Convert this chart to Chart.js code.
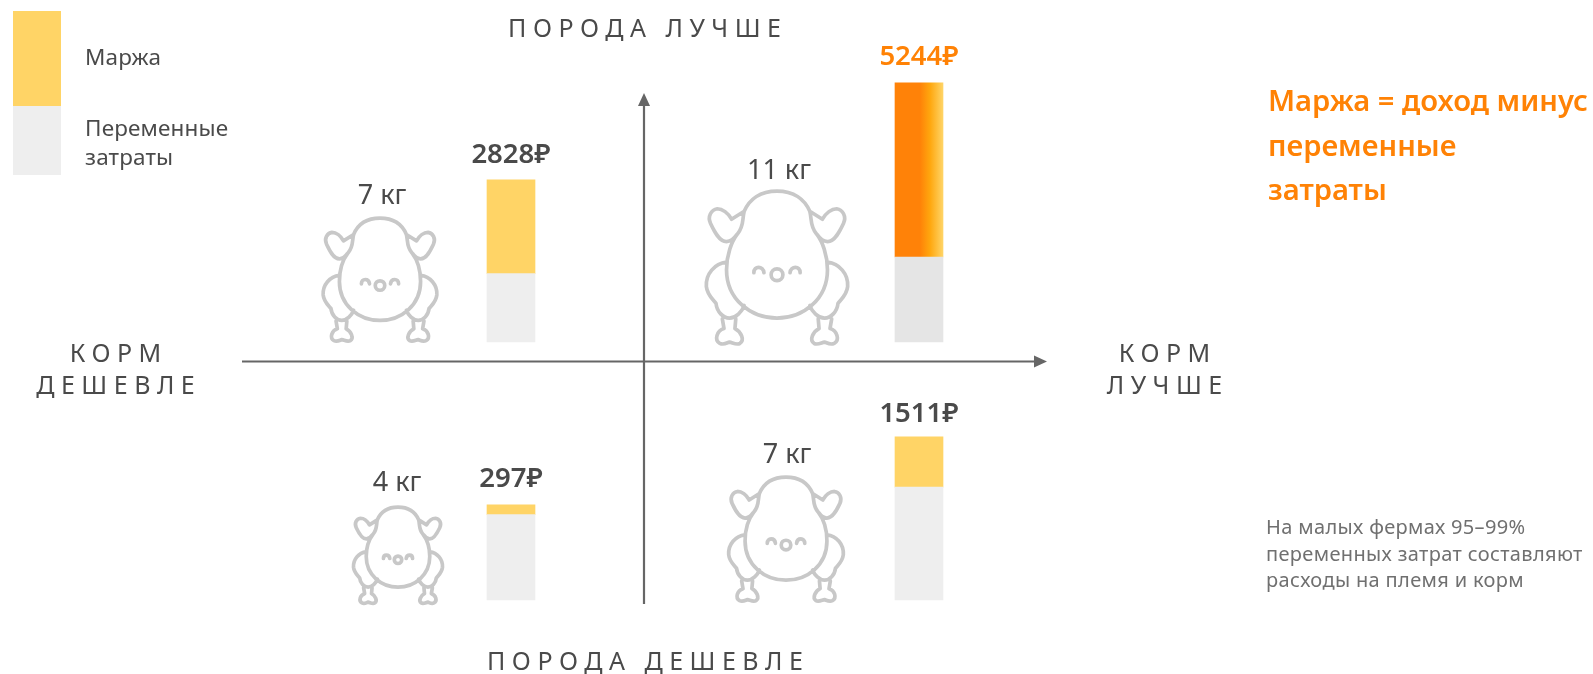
<!DOCTYPE html>
<html lang="ru">
<head>
<meta charset="utf-8">
<title>Маржа</title>
<script src="https://cdn.jsdelivr.net/npm/chart.js@4/dist/chart.umd.min.js"></script>
<style>
  html, body { margin: 0; padding: 0; background: #fff; }
  body { position: relative; width: 1593px; height: 674px; overflow: hidden; font-family: "Noto Sans", sans-serif; color: #4a4a4a; }
  canvas { position: absolute; left: 0; top: 0; }
  .label { position: absolute; white-space: pre; }
  .swatch { position: absolute; left: 13px; width: 48px; }
  .axis-name { font-size: 25px; line-height: 32px; letter-spacing: 6.5px; text-align: center; transform: translateX(-50%); }
  .legend-text { left: 85px; font-size: 22.5px; line-height: 29px; letter-spacing: 0.15px; }
  .title { left: 1268px; font-size: 29.2px; line-height: 44.5px; font-weight: 600; color: #ff8205; }
  .note { left: 1266px; font-size: 20px; line-height: 26.5px; letter-spacing: 0.35px; color: #707070; }
</style>
</head>
<body>
<canvas id="quadrantChart" width="1593" height="674"></canvas>

<div class="swatch" style="top:11px;height:95px;background:#ffd466"></div>
<div class="swatch" style="top:106px;height:69px;background:#eeeeee"></div>
<div class="label legend-text" style="top:42px">Маржа</div>
<div class="label legend-text" style="top:113px">Переменные
затраты</div>

<div class="label axis-name" style="left:647.75px;top:11px">ПОРОДА ЛУЧШЕ</div>
<div class="label axis-name" style="left:648.25px;top:644px">ПОРОДА ДЕШЕВЛЕ</div>
<div class="label axis-name" style="left:118.75px;top:336px">КОРМ
ДЕШЕВЛЕ</div>
<div class="label axis-name" style="left:1167.75px;top:336px">КОРМ
ЛУЧШЕ</div>

<div class="label title" style="top:78px">Маржа = доход минус
переменные
затраты</div>
<div class="label note" style="top:514px">На малых фермах 95–99%
переменных затрат составляют
расходы на племя и корм</div>

<script>
// Chart values, columns are "feed cheaper" and "feed better"
const feedLabels = ["Корм дешевле", "Корм лучше"];
const goodBreedCosts = [2060, 2560];
const goodBreedMargins = [2828, 5244];
const goodBreedWeights = [7, 11];
const cheapBreedCosts = [2570, 3400];
const cheapBreedMargins = [297, 1511];
const cheapBreedWeights = [4, 7];

const FONT = '"Noto Sans", sans-serif';
const YELLOW = "#ffd466";
const ORANGE = "#ff8205";
const TEXT = "#4a4a4a";
const AXIS = "#666666";

// Pixels per rouble and where each row of bars sits on the canvas
const PX_PER_RUB = 0.0332;
const HEIGHT = 674;
const TOP_ROW_BASE = 342;
const BOTTOM_ROW_BASE = 600;

// Chicken drawings: width and shift from the bar, indexed [row][column]
const iconWidths = [[115, 143], [90, 116]];
const iconShifts = [[-131, -142], [-113, -133]];
const iconDrops = [[0, 3], [4, 2]];
const weightShifts = [[-129, -140], [-114, -132]];
const weightAbove = [[138, 163], [109, 137]];
const labelGaps = [[17, 18], [18, 15]];

const chicken = new Path2D();
function addSide(mirror) {
  const x = (v) => (mirror ? 476 - v : v);
  const side = new Path2D(
    // wing
    `M${x(160)} 316 L${x(130)} 335 C${x(122)} 320 ${x(108)} 310 ${x(96)} 310 ` +
    `C${x(82)} 312 ${x(72)} 328 ${x(80)} 345 C${x(88)} 362 ${x(100)} 388 ${x(118)} 388 ` +
    `C${x(125)} 388 ${x(133)} 385 ${x(142)} 372 ` +
    // thigh
    `M${x(118)} 437 C${x(90)} 440 ${x(68)} 465 ${x(70)} 495 C${x(72)} 515 ${x(85)} 525 ${x(93)} 535 ` +
    `C${x(95)} 555 ${x(110)} 570 ${x(125)} 570 C${x(140)} 570 ${x(155)} 555 ${x(160)} 540 ` +
    // foot
    `M${x(108)} 572 L${x(112)} 595 C${x(95)} 600 ${x(88)} 622 ${x(102)} 630 ` +
    `C${x(112)} 635 ${x(120)} 628 ${x(125)} 627 C${x(132)} 628 ${x(142)} 635 ${x(150)} 630 ` +
    `C${x(162)} 622 ${x(152)} 602 ${x(138)} 595 L${x(140)} 572 ` +
    // eye
    `M${x(183)} 462 C${x(183)} 445 ${x(205)} 445 ${x(207)} 462`
  );
  chicken.addPath(side);
}
chicken.addPath(new Path2D(
  "M238 268 C198 268 172 288 160 316 C155 335 160 352 144 370 C130 388 118 420 118 455 " +
  "C118 525 175 570 238 570 C301 570 358 525 358 455 C358 420 346 388 332 370 " +
  "C316 352 321 335 316 316 C304 288 278 268 238 268 Z"
));
chicken.addPath(new Path2D("M252 467 A14 14 0 1 1 224 467 A14 14 0 1 1 252 467 Z"));
addSide(false);
addSide(true);

function drawArrow(ctx, x1, y1, x2, y2) {
  const angle = Math.atan2(y2 - y1, x2 - x1);
  ctx.strokeStyle = AXIS;
  ctx.fillStyle = AXIS;
  ctx.lineWidth = 2.2;
  ctx.beginPath();
  ctx.moveTo(x1, y1);
  ctx.lineTo(x2 - 10 * Math.cos(angle), y2 - 10 * Math.sin(angle));
  ctx.stroke();
  ctx.save();
  ctx.translate(x2, y2);
  ctx.rotate(angle);
  ctx.beginPath();
  ctx.moveTo(0, 0);
  ctx.lineTo(-13, -6);
  ctx.lineTo(-13, 6);
  ctx.closePath();
  ctx.fill();
  ctx.restore();
}

function drawChicken(ctx, cx, bottom, width) {
  const s = width / 340;
  ctx.save();
  ctx.translate(cx - 238 * s, bottom - 634 * s);
  ctx.scale(s, s);
  ctx.strokeStyle = "#c8c8c8";
  ctx.lineWidth = 3.7 / s;
  ctx.lineCap = "round";
  ctx.lineJoin = "round";
  ctx.stroke(chicken);
  ctx.restore();
}

// Axes, chickens and text above the bars
const quadrantPlugin = {
  id: "quadrant",
  afterDatasetsDraw(chart) {
    const ctx = chart.ctx;
    const xScale = chart.scales.x;
    const rows = [
      { weights: goodBreedWeights, margins: goodBreedMargins, meta: chart.getDatasetMeta(1), base: TOP_ROW_BASE },
      { weights: cheapBreedWeights, margins: cheapBreedMargins, meta: chart.getDatasetMeta(3), base: BOTTOM_ROW_BASE },
    ];

    drawArrow(ctx, 242, 361.5, 1047, 361.5);
    drawArrow(ctx, 644, 604, 644, 93);

    rows.forEach((row, r) => {
      row.weights.forEach((kg, c) => {
        const barX = xScale.getPixelForValue(c);
        drawChicken(ctx, barX + iconShifts[r][c], row.base + iconDrops[r][c], iconWidths[r][c]);

        ctx.textAlign = "center";
        ctx.textBaseline = "alphabetic";
        ctx.fillStyle = TEXT;
        ctx.font = `400 27px ${FONT}`;
        ctx.fillText(`${kg} кг`, barX + weightShifts[r][c], row.base - weightAbove[r][c]);

        const bar = row.meta.data[c];
        ctx.font = `600 27.5px ${FONT}`;
        ctx.fillStyle = r === 0 && c === 1 ? ORANGE : TEXT;
        ctx.fillText(`${row.margins[c]}₽`, barX, bar.y - labelGaps[r][c]);
      });
    });
  },
};

// Only the best margin gets the orange fill
function goodMarginFill(context) {
  if (context.dataIndex !== 1 || !context.chart.chartArea) return YELLOW;
  const x = context.chart.scales.x.getPixelForValue(1);
  const gradient = context.chart.ctx.createLinearGradient(x - 24, 0, x + 24, 0);
  gradient.addColorStop(0, "#ff8208");
  gradient.addColorStop(0.52, "#ff8208");
  gradient.addColorStop(0.73, "#ffa70e");
  gradient.addColorStop(1, YELLOW);
  return gradient;
}

const barDefaults = { stack: "quadrant", barPercentage: 1, categoryPercentage: 1, maxBarThickness: 48, borderWidth: 0 };

new Chart(document.getElementById("quadrantChart"), {
  type: "bar",
  data: {
    labels: feedLabels,
    datasets: [
      { ...barDefaults, label: "Переменные затраты", data: goodBreedCosts, yAxisID: "yGood", backgroundColor: ["#eeeeee", "#e5e5e5"] },
      { ...barDefaults, label: "Маржа", data: goodBreedMargins, yAxisID: "yGood", backgroundColor: goodMarginFill },
      { ...barDefaults, label: "Переменные затраты", data: cheapBreedCosts, yAxisID: "yCheap", backgroundColor: "#eeeeee" },
      { ...barDefaults, label: "Маржа", data: cheapBreedMargins, yAxisID: "yCheap", backgroundColor: YELLOW },
    ],
  },
  options: {
    responsive: false,
    animation: false,
    layout: { padding: { left: 307, right: 470, top: 0, bottom: 0 } },
    plugins: { legend: { display: false }, tooltip: { enabled: false } },
    scales: {
      x: { display: false, stacked: true, grid: { display: false } },
      yGood: {
        display: false,
        stacked: true,
        min: (TOP_ROW_BASE - HEIGHT) / PX_PER_RUB,
        max: TOP_ROW_BASE / PX_PER_RUB,
      },
      yCheap: {
        display: false,
        stacked: true,
        min: (BOTTOM_ROW_BASE - HEIGHT) / PX_PER_RUB,
        max: BOTTOM_ROW_BASE / PX_PER_RUB,
      },
    },
  },
  plugins: [quadrantPlugin],
});
</script>
</body>
</html>
